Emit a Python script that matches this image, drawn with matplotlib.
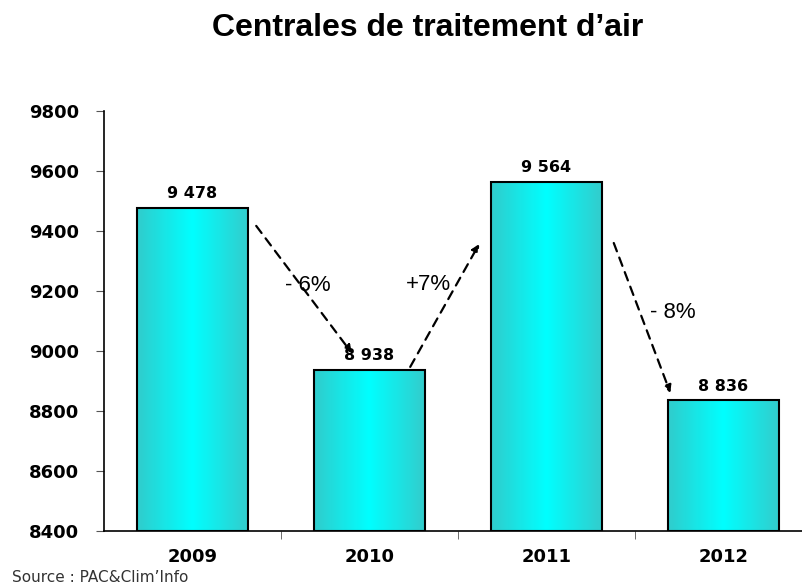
import numpy as np
import matplotlib
matplotlib.use("Agg")
from matplotlib import pyplot as plt
from matplotlib.colors import LinearSegmentedColormap

years = ["2009", "2010", "2011", "2012"]
values = [9478, 8938, 9564, 8836]
changes = ["- 6%", "+7%", "- 8%"]

ymin, ymax = 8400, 9800
bar_w = 0.625

fig = plt.figure(figsize=(8.03, 5.87), dpi=100)
ax = fig.add_axes([104 / 803, 56 / 587, 708 / 803, 420 / 587])

# teal -> cyan -> teal gradient for the bars
cmap = LinearSegmentedColormap.from_list("bar", ["#30cccc", "#00ffff", "#33cccc"])
grad = np.linspace(0, 1, 256).reshape(1, -1)

for i, v in enumerate(values):
    x0 = i - bar_w / 2
    ax.imshow(grad, extent=[x0, x0 + bar_w, ymin, v], aspect="auto",
              cmap=cmap, zorder=1)
    ax.bar(i, v - ymin, bottom=ymin, width=bar_w, facecolor="none",
           edgecolor="black", linewidth=1.5, zorder=2)
    ax.text(i, v + 22, f"{v:,}".replace(",", " "), ha="center", va="bottom",
            fontsize=11.5, fontweight="bold", family="DejaVu Sans")

# dashed arrows with the yearly change
arrows = [((0.36, 9417), (0.90, 8993)),
          ((1.23, 8947), (1.62, 9357)),
          ((2.38, 9360), (2.70, 8860))]
label_pos = [(0.65, 9217), (1.333, 9220), (2.715, 9130)]
for (start, end), txt, pos in zip(arrows, changes, label_pos):
    ax.annotate("", xy=end, xytext=start,
                arrowprops=dict(arrowstyle="-|>", linestyle=(0, (4, 3)),
                                color="black", lw=1.6, mutation_scale=11,
                                shrinkA=0, shrinkB=0), zorder=3)
    ax.text(pos[0], pos[1], txt, ha="center", va="center", fontsize=16,
            family="Liberation Sans")

ax.set_xlim(-0.5, 3.5)
ax.set_ylim(ymin, ymax)
ax.set_yticks(np.arange(ymin, ymax + 1, 200))
ax.set_yticklabels([str(t) for t in np.arange(ymin, ymax + 1, 200)],
                   fontsize=13, fontweight="bold")
ax.set_xticks(range(len(years)))
ax.set_xticklabels(years, fontsize=13, fontweight="bold")
ax.tick_params(axis="x", length=0, pad=12)
ax.set_xticks([0.5, 1.5, 2.5], minor=True)
ax.tick_params(axis="x", which="minor", length=6, color="#555555")
ax.tick_params(axis="y", length=6, color="#555555", pad=12)

for s in ["top", "right"]:
    ax.spines[s].set_visible(False)
for s in ["left", "bottom"]:
    ax.spines[s].set_linewidth(1.2)

fig.text(0.533, 0.952, "Centrales de traitement d\u2019air", ha="center",
         va="center", fontsize=23, fontweight="bold", family="Liberation Sans")
fig.text(12 / 803, 1 - 578 / 587, "Source : PAC&Clim\u2019Info", ha="left",
         va="center", fontsize=11, color="#333333")

fig.savefig("out.png", dpi=100)
